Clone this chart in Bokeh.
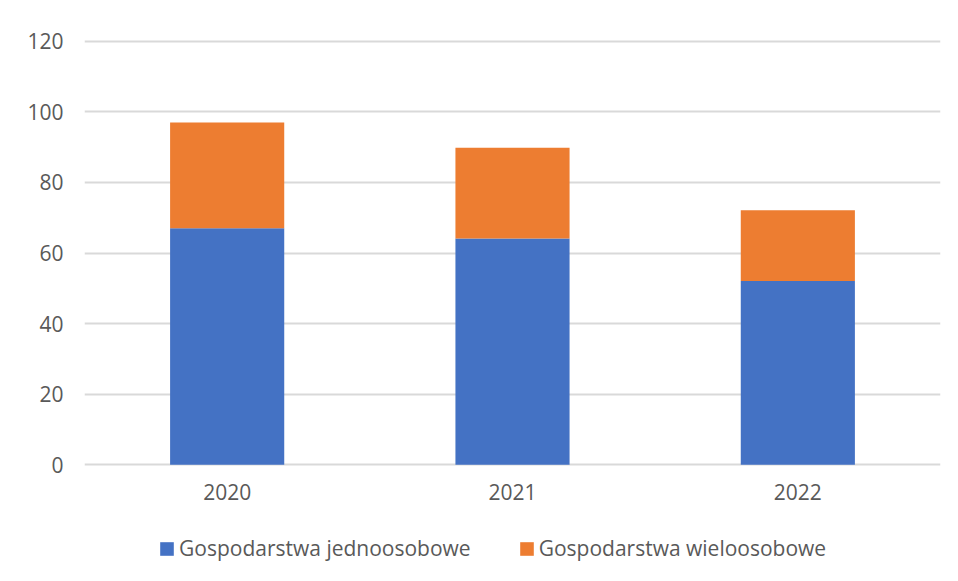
from bokeh.plotting import figure
from bokeh.layouts import column
from bokeh.models import ColumnDataSource, Range1d, Legend, LegendItem, FixedTicker
from bokeh.embed import file_html
from bokeh.resources import INLINE

years = ["2020", "2021", "2022"]
jednoosobowe = [67, 64.1, 52.1]
wieloosobowe = [30, 25.7, 20]
series_names = ["Gospodarstwa jednoosobowe", "Gospodarstwa wieloosobowe"]
colors = ["#4472C4", "#ED7D31"]
y_ticks = [0, 20, 40, 60, 80, 100, 120]

src = ColumnDataSource(dict(years=years, j=jednoosobowe, w=wieloosobowe))

FONT = "Open Sans"
GREY = "#595959"

p = figure(x_range=years, y_range=Range1d(-0.5, 120.5), width=958, height=515,
           output_backend="svg", toolbar_location=None,
           min_border_left=84, min_border_right=18, min_border_top=39, min_border_bottom=49)

r = p.vbar_stack(["j", "w"], x="years", width=0.4, source=src, color=colors, line_width=0)

p.outline_line_color = None
p.xgrid.grid_line_color = None
p.ygrid.grid_line_color = "#d9d9d9"
p.ygrid.grid_line_width = 2
p.yaxis.ticker = FixedTicker(ticks=y_ticks)

for ax in (p.xaxis[0], p.yaxis[0]):
    ax.axis_line_color = None
    ax.major_tick_line_color = None
    ax.minor_tick_line_color = None
    ax.major_tick_out = 0
    ax.major_tick_in = 0
    ax.major_label_text_font = FONT
    ax.major_label_text_font_size = "21px"
    ax.major_label_text_color = GREY
p.yaxis.major_label_standoff = 21
p.xaxis.major_label_standoff = 17

# legend strip below the chart (its frame is aligned with the chart's frame by the column)
p2 = figure(width=958, height=66, x_range=Range1d(0, 1), y_range=Range1d(0, 1),
            output_backend="svg", toolbar_location=None, x_axis_type=None, y_axis_type=None,
            min_border_left=0, min_border_right=0, min_border_top=0, min_border_bottom=0)
p2.outline_line_color = None
p2.grid.visible = False
# swatch-only renderers, kept outside the visible range so only their legend glyphs show
swatches = [p2.vbar(x=[-1.0], top=[-1.0], width=0.1, color=colors[i], line_width=0) for i in range(2)]

legend = Legend(items=[LegendItem(label=series_names[i], renderers=[swatches[i]]) for i in range(2)],
                orientation="horizontal", location="left", padding=0, margin=74,
                spacing=47, label_height=20, glyph_width=17, glyph_height=17,
                label_standoff=4,
                label_text_font=FONT, label_text_font_size="21px", label_text_color=GREY,
                border_line_color=None, background_fill_alpha=0)
p2.add_layout(legend, "center")

layout = column(p, p2, spacing=0)
open("out.html", "w").write(file_html(layout, INLINE))
